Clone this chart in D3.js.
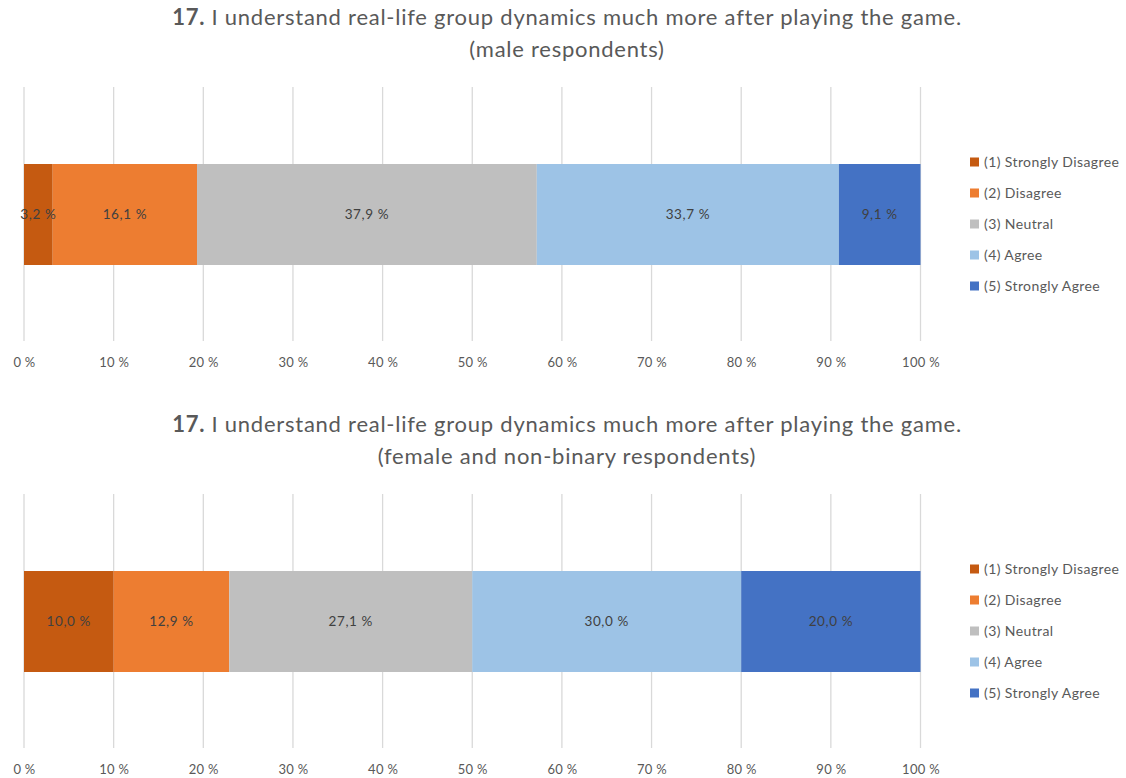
<!DOCTYPE html>
<html>
<head>
<meta charset="utf-8">
<script src="https://cdn.jsdelivr.net/npm/d3@7"></script>
<style>
  html, body { margin: 0; padding: 0; background: #fff; }
  svg { display: block; font-family: Lato, "Open Sans", sans-serif; }
</style>
</head>
<body>
<svg id="chart" width="1126" height="778"></svg>
<script>
// Response categories (Likert scale) and their colours
const categories = ["(1) Strongly Disagree", "(2) Disagree", "(3) Neutral", "(4) Agree", "(5) Strongly Agree"];
const colors = ["#C55A11", "#ED7D31", "#BFBFBF", "#9DC3E6", "#4472C4"];

// Percent of respondents per category
const maleValues = [3.2, 16.1, 37.9, 33.7, 9.1];
const femaleValues = [10.0, 12.9, 27.1, 30.0, 20.0];

// Axis ticks
const tickValues = [0, 10, 20, 30, 40, 50, 60, 70, 80, 90, 100];

const questionNo = "17.";
const questionText = " I understand real-life group dynamics much more after playing the game.";
const subtitles = ["(male respondents)", "(female and non-binary respondents)"];

const svg = d3.select("#chart");
const fmt = v => v.toFixed(1).replace(".", ",") + " %";

function drawPanel(offsetY, subtitle, values) {
  const g = svg.append("g").attr("transform", `translate(0,${offsetY})`);

  const x = d3.scaleLinear().domain([0, 100]).range([24, 920.5]);

  // Title
  const t = g.append("text")
    .attr("x", 567).attr("y", 25)
    .attr("text-anchor", "middle")
    .attr("fill", "#595959")
    .style("font-size", "22px")
    .style("letter-spacing", "0.75px");
  t.append("tspan").attr("font-weight", "bold").text(questionNo);
  t.append("tspan").text(questionText);
  g.append("text")
    .attr("x", 567).attr("y", 57)
    .attr("text-anchor", "middle")
    .attr("fill", "#595959")
    .style("font-size", "22px")
    .style("letter-spacing", "0.75px")
    .text(subtitle);

  // Vertical gridlines
  g.append("g").selectAll("line")
    .data(tickValues)
    .join("line")
    .attr("x1", d => x(d)).attr("x2", d => x(d))
    .attr("y1", 87).attr("y2", 341)
    .attr("stroke", "#D9D9D9")
    .attr("stroke-width", 1.3);

  // Tick labels
  const axis = d3.axisBottom(x).tickValues(tickValues).tickSize(0).tickPadding(0)
    .tickFormat(d => d + " %");
  const ax = g.append("g").attr("transform", "translate(0,358)").call(axis);
  ax.select(".domain").remove();
  ax.selectAll("text")
    .attr("fill", "#595959")
    .style("font-size", "13px")
    .style("letter-spacing", "0.3px")
    .style("font-family", "Lato, 'Open Sans', sans-serif");

  // Stacked segments
  let acc = 0;
  const segs = values.map((v, i) => {
    const s = { start: acc, end: acc + v, value: v, color: colors[i] };
    acc += v;
    return s;
  });

  const barY = 164, barH = 101;
  g.append("g").selectAll("rect")
    .data(segs)
    .join("rect")
    .attr("x", d => x(d.start))
    .attr("width", d => x(d.end) - x(d.start))
    .attr("y", barY)
    .attr("height", barH)
    .attr("fill", d => d.color);

  g.append("g").selectAll("text")
    .data(segs)
    .join("text")
    .attr("x", d => (x(d.start) + x(d.end)) / 2)
    .attr("y", barY + barH / 2)
    .attr("dy", "0.35em")
    .attr("text-anchor", "middle")
    .attr("fill", "#404040")
    .style("font-size", "13.5px")
    .style("letter-spacing", "0.6px")
    .text(d => fmt(d.value));

  // Legend
  const leg = g.append("g").selectAll("g")
    .data(categories)
    .join("g")
    .attr("transform", (d, i) => `translate(970,${162 + i * 31})`);
  leg.append("rect")
    .attr("x", 0).attr("y", -4.5)
    .attr("width", 9).attr("height", 9)
    .attr("fill", (d, i) => colors[i]);
  leg.append("text")
    .attr("x", 14).attr("y", 0)
    .attr("dy", "0.35em")
    .attr("fill", "#595959")
    .style("font-size", "14px")
    .style("letter-spacing", "0.4px")
    .text(d => d);
}

drawPanel(0, subtitles[0], maleValues);
drawPanel(407, subtitles[1], femaleValues);
</script>
</body>
</html>
